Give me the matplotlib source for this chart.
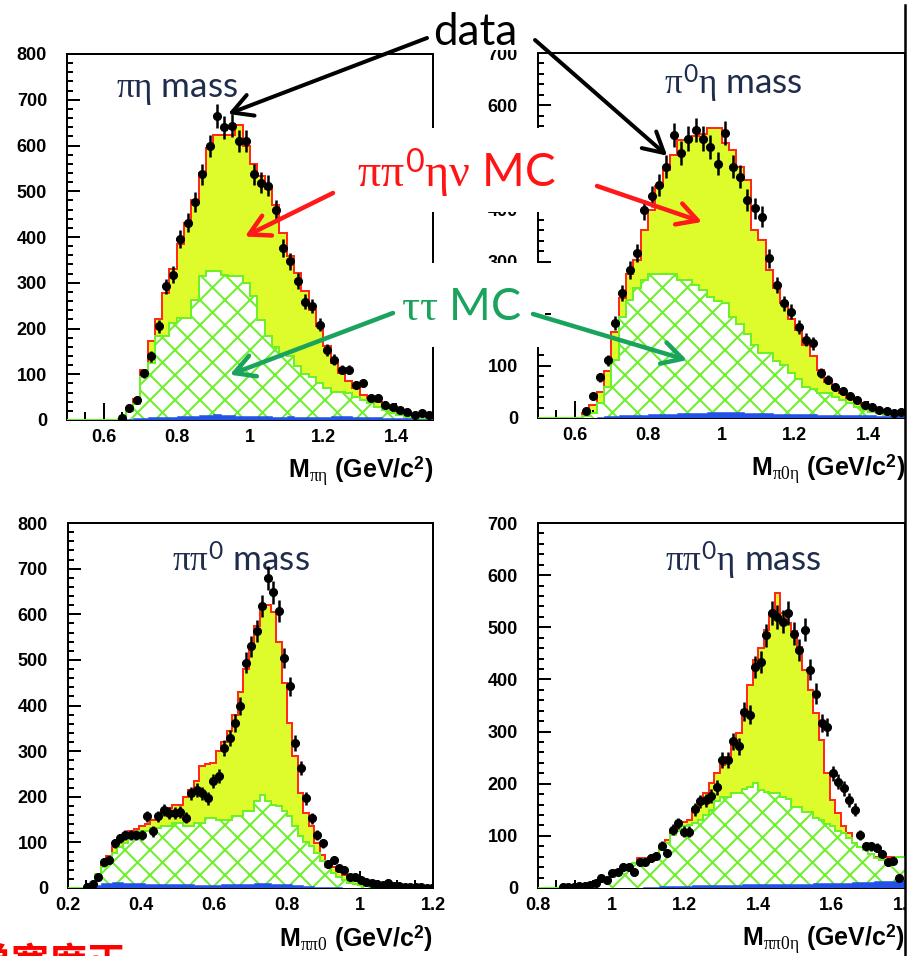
import numpy as np
import matplotlib

matplotlib.use("Agg")
import matplotlib.pyplot as plt
from matplotlib.lines import Line2D
from matplotlib.patches import ConnectionPatch, Rectangle
from matplotlib.ticker import FixedLocator, FuncFormatter, MultipleLocator

DPI = 75
W, H = 915, 956

# --- invariant masses: 0.02 GeV bins for the two-body pairs ---
pieta_data = np.array([0, 0, 0, 0, 0, 0, 0,
                       5, 26, 44, 102, 139, 205, 292, 318, 395, 431, 477, 537, 599, 665, 640, 643, 610, 610,
                       537, 519, 512, 460, 376, 347, 303, 259, 249, 208, 153, 132, 110, 110, 77, 80, 48, 48,
                       33, 29, 22, 18, 11, 15, 11])
pieta_mc = np.array([0, 0, 0, 0, 0, 0, 0,
                     3, 26, 45, 110, 172, 220, 278, 330, 385, 430, 480, 540, 595, 622, 622, 622, 645, 600,
                     560, 534, 505, 470, 409, 358, 322, 282, 240, 205, 161, 125, 102, 85, 70, 55, 48, 40,
                     33, 26, 20, 16, 12, 9, 7])
pieta_tautau = np.array([0, 0, 0, 0, 0, 0, 0,
                         3, 20, 35, 95, 124, 183, 183, 212, 223, 223, 263, 314, 325, 325, 318, 314, 314, 300,
                         270, 219, 183, 160, 143, 139, 117, 100, 95, 80, 69, 62, 62, 58, 51, 44, 37, 29,
                         22, 15, 10, 7, 4, 2, 1])
pieta_other = np.array([0, 0, 0, 0, 0, 0, 0, 0,
                        2, 4, 5, 6, 6, 7, 7, 8, 8, 9, 10, 12, 14, 12, 10, 9, 8, 9, 8, 8, 7, 7, 8, 7, 6, 6,
                        6, 6, 8, 9, 8, 7, 7, 6, 6, 5, 5, 4, 4, 3, 3, 2])

pi0eta_data = np.array([0, 0, 0, 0, 0, 0,
                        13, 42, 78, 111, 183, 239, 284, 316, 399, 425, 447, 482, 543, 508, 536, 552, 536,
                        520, 488, 546, 482, 463, 418, 402, 386, 306, 255, 220, 204, 175, 150, 143, 86, 73,
                        60, 52, 42, 35, 25, 22, 15, 13, 9, 12])
pi0eta_mc = np.array([0, 0, 0, 0, 0, 0,
                      10, 25, 50, 90, 165, 230, 277, 303, 361, 399, 444, 476, 505, 533, 533, 540, 545, 556,
                      556, 527, 514, 482, 456, 361, 341, 284, 250, 220, 190, 169, 140, 118, 92, 70, 58, 47,
                      38, 30, 24, 18, 14, 11, 9, 8])
pi0eta_tautau = np.array([0, 0, 0, 0, 0, 0,
                          3, 10, 28, 60, 111, 194, 226, 250, 265, 277, 277, 277, 277, 265, 265, 255, 245,
                          233, 225, 220, 194, 180, 162, 140, 124, 124, 110, 102, 86, 75, 60, 55, 47, 47, 41,
                          35, 28, 22, 15, 12, 9, 6, 4, 3])
pi0eta_other = np.array([0, 0, 0, 0, 0, 0, 0, 0, 2,
                         3, 4, 5, 5, 6, 6, 7, 7, 8, 8, 9, 9, 10, 10, 11, 12, 12, 12, 11, 10, 10, 9, 9, 8, 8,
                         8, 7, 7, 7, 6, 6, 6, 6, 5, 5, 5, 5, 4, 4, 4, 4])

# --- 0.015 GeV bins for pi pi0 and pi pi0 eta ---
pipi0_data = np.array([0, 0, 0, 2, 8, 25, 58, 62, 98, 109,
                       116, 116, 116, 116, 157, 124, 157, 171, 164, 164,
                       166, 154, 208, 215, 208, 197, 234, 245, 307, 329,
                       362, 399, 494, 530, 563, 618, 680, 648, 607, 504,
                       442, 318, 263, 197, 153, 117, 98, 53, 62, 43,
                       40, 25, 25, 18, 14, 10, 9, 7, 10, 5,
                       4, 3, 3, 2, 2, 1, 1])
pipi0_mc = np.array([0, 0, 0, 1, 6, 30, 55, 70, 90, 105,
                     115, 125, 130, 135, 140, 150, 160, 168, 175, 182,
                     182, 200, 215, 235, 267, 272, 275, 300, 320, 345,
                     380, 430, 480, 530, 575, 615, 620, 605, 540, 450,
                     362, 289, 208, 164, 135, 98, 72, 58, 45, 35,
                     28, 22, 18, 15, 12, 10, 8, 7, 6, 5,
                     4, 3, 3, 2, 2, 2, 1])
pipi0_tautau = np.array([0, 0, 0, 0, 5, 30, 47, 60, 76, 90,
                         98, 113, 113, 124, 124, 131, 131, 135, 135, 142,
                         142, 135, 135, 142, 142, 153, 153, 150, 150, 150,
                         157, 157, 168, 168, 190, 204, 190, 182, 179, 168,
                         157, 135, 113, 100, 91, 76, 60, 47, 32, 25,
                         18, 12, 8, 6, 4, 3, 2, 1, 1, 1,
                         1, 0, 0, 0, 0, 0, 0])
pipi0_other = np.array([0, 0, 0, 0, 2,
                        6, 10, 12, 14, 13, 12, 11, 10, 10, 9, 9, 9, 8, 8, 8, 8, 8, 8, 7, 7, 7, 7, 7, 8, 8,
                        8, 9, 9, 9, 10, 10, 10, 9, 9, 8, 8, 7, 6, 5, 4, 3,
                        3, 2, 2, 2, 1, 1, 1, 1, 1, 1, 0, 0, 0, 0, 0, 0, 0, 0, 0, 0, 0])

pipi0eta_data = np.array([0, 0, 0, 0, 1, 1, 2, 3, 4, 6,
                          9, 19, 15, 28, 31, 41, 41, 31, 49, 49,
                          57, 61, 81, 67, 112, 124, 108, 108, 151, 166,
                          168, 177, 193, 246, 246, 281, 272, 338, 332, 424,
                          434, 485, 527, 520, 511, 527, 488, 457, 495, 419,
                          373, 316, 309, 220, 204, 191, 169, 150, 102, 80,
                          80, 77, 65, 49, 52, 19, 0])
pipi0eta_mc = np.array([0, 0, 0, 0, 1, 1, 2, 3, 5, 7,
                        10, 15, 19, 28, 35, 41, 45, 47, 57, 57,
                        60, 66, 79, 92, 105, 121, 127, 130, 150, 162,
                        182, 201, 220, 236, 252, 284, 297, 341, 389, 437,
                        460, 495, 527, 565, 527, 508, 492, 463, 418, 380,
                        335, 284, 220, 169, 143, 118, 105, 86, 79, 76,
                        66, 60, 60, 60, 60, 60, 60])
pipi0eta_tautau = np.array([0, 0, 0, 0, 0, 1, 2, 3, 4, 6,
                            8, 12, 15, 22, 30, 35, 38, 47, 47, 55,
                            60, 66, 73, 86, 102, 110, 118, 120, 125, 130,
                            140, 150, 166, 175, 175, 182, 182, 190, 194, 201,
                            188, 185, 182, 182, 175, 170, 156, 156, 146, 146,
                            135, 130, 122, 118, 110, 105, 95, 86, 79, 73,
                            65, 58, 54, 50, 54, 60, 60])
pipi0eta_other = np.array([0] * 19 +
                          [1, 2, 2, 3, 3, 3, 4, 4, 4, 5, 5, 5, 5, 6, 6, 6, 6, 6, 7, 7, 7, 7, 7, 8,
                           8, 8, 8, 8, 8, 8, 8, 9, 9, 9, 9, 10, 10, 10, 11, 11, 12, 12, 13, 13, 14, 14, 15, 15])

YELLOW = "#defc2c"
RED = "#ff2a1a"
GREEN = "#6cf028"
BLUE = "#2452e6"
NAVY = "#1f2c4c"
NOTE_GREEN = "#19a35c"


def pt(px):
    return px * 72 / DPI


def fig_frac(x, y):
    return x / W, 1 - y / H


plt.rcParams.update({
    "font.family": ["Lato", "DejaVu Sans"],
    "mathtext.fontset": "custom",
    "mathtext.rm": "Liberation Serif",
    "mathtext.it": "Liberation Serif",
    "mathtext.bf": "Liberation Sans:bold",
    "mathtext.sf": "Lato",
    "hatch.linewidth": 1.9,
})

fig = plt.figure(figsize=(W / DPI, H / DPI), dpi=DPI)


def add_axes_px(x0, y0, x1, y1):
    return fig.add_axes([x0 / W, 1 - y1 / H, (x1 - x0) / W, (y1 - y0) / H])


def draw_panel(ax, edges, mc, tautau, other, data, xlim, ymax, xticks, title, title_xy, xlabel):
    ax.stairs(mc, edges, fill=True, facecolor=YELLOW, edgecolor="none", zorder=1)
    ax.stairs(mc, edges, color=RED, linewidth=pt(2), zorder=2)
    ax.stairs(tautau, edges, fill=True, facecolor="white", edgecolor=GREEN,
              hatch="x", linewidth=pt(2), zorder=3)
    ax.stairs(other, edges, fill=True, facecolor=BLUE, edgecolor=BLUE, linewidth=0.5, zorder=4)

    centers = 0.5 * (edges[:-1] + edges[1:])
    m = data > 0
    ax.errorbar(centers[m], data[m], yerr=np.sqrt(data[m]), fmt="o", ms=pt(8), color="black",
                elinewidth=pt(2.5), capsize=0, zorder=5)

    ax.set_xlim(*xlim)
    ax.set_ylim(0, ymax)
    ax.xaxis.set_major_locator(FixedLocator(xticks))
    ax.xaxis.set_minor_locator(MultipleLocator(0.05))
    ax.yaxis.set_major_locator(MultipleLocator(100))
    ax.yaxis.set_minor_locator(MultipleLocator(20))
    ax.xaxis.set_major_formatter(FuncFormatter(lambda v, _: f"{v:g}"))
    ax.yaxis.set_major_formatter(FuncFormatter(lambda v, _: f"{v:g}"))
    ax.tick_params(which="both", direction="in", top=False, right=False, width=pt(2),
                   labelsize=pt(18), labelfontfamily="Liberation Sans")
    ax.tick_params(axis="x", which="major", length=pt(17), pad=pt(9))
    ax.tick_params(axis="x", which="minor", length=pt(8))
    ax.tick_params(axis="y", which="major", length=pt(13), pad=pt(20))
    ax.tick_params(axis="y", which="minor", length=pt(6))
    plt.setp(ax.get_xticklabels() + ax.get_yticklabels(), fontweight="bold")
    for s in ax.spines.values():
        s.set_linewidth(pt(2))

    ax.text(title_xy[0], title_xy[1], title, transform=ax.transAxes, ha="center",
            va="baseline", fontsize=pt(35), color=NAVY)
    ax.text(1.0, -0.14, xlabel, transform=ax.transAxes, ha="right", va="center",
            fontsize=pt(25), fontweight="bold", family="Liberation Sans")


edges_pair = np.linspace(0.5, 1.5, 51)
edges_pipi0 = 0.2 + 0.015 * np.arange(68)
edges_pipi0eta = 0.8 + 0.015 * np.arange(68)

ax_tl = add_axes_px(67, 54, 433, 420)
ax_tr = add_axes_px(538, 53, 905, 418)
ax_bl = add_axes_px(68, 523, 433, 888)
ax_br = add_axes_px(538, 523, 905, 888)

draw_panel(ax_tl, edges_pair, pieta_mc, pieta_tautau, pieta_other, pieta_data,
           (0.5, 1.5), 800, [0.6, 0.8, 1.0, 1.2, 1.4],
           r"$\pi\eta$ mass", (0.30, 0.883), r"M$_{\pi\eta}$ (GeV/c$^{\mathbf{2}}$)")
draw_panel(ax_tr, edges_pair, pi0eta_mc, pi0eta_tautau, pi0eta_other, pi0eta_data,
           (0.5, 1.5), 700, [0.6, 0.8, 1.0, 1.2, 1.4],
           r"$\pi^{\mathsf{0}}\eta$ mass", (0.531, 0.887), r"M$_{\pi0\eta}$ (GeV/c$^{\mathbf{2}}$)")
draw_panel(ax_bl, edges_pipi0, pipi0_mc, pipi0_tautau, pipi0_other, pipi0_data,
           (0.2, 1.2), 800, [0.2, 0.4, 0.6, 0.8, 1.0, 1.2],
           r"$\pi\pi^{\mathsf{0}}$ mass", (0.474, 0.866), r"M$_{\pi\pi0}$ (GeV/c$^{\mathbf{2}}$)")
draw_panel(ax_br, edges_pipi0eta, pipi0eta_mc, pipi0eta_tautau, pipi0eta_other, pipi0eta_data,
           (0.8, 1.8), 700, [0.8, 1.0, 1.2, 1.4, 1.6, 1.8],
           r"$\pi\pi^{\mathsf{0}}\eta$ mass", (0.559, 0.866), r"M$_{\pi\pi0\eta}$ (GeV/c$^{\mathbf{2}}$)")

# white label boxes laid over the panels
for x0, y0, x1, y1 in [(430, 0, 530, 50), (338, 128, 572, 212), (396, 263, 545, 347), (907, 0, W, H)]:
    fig.add_artist(Rectangle(fig_frac(x0, y1), (x1 - x0) / W, (y1 - y0) / H,
                             transform=fig.transFigure, facecolor="white", edgecolor="none", zorder=5))
fig.add_artist(Line2D([905 / W, 905 / W], [0, 1 - 5 / H], transform=fig.transFigure,
                      color="black", linewidth=pt(2.5), zorder=6))

fig.text(*fig_frac(475, 45), "data", ha="center", va="baseline", fontsize=pt(44), color="black", zorder=7)
fig.text(*fig_frac(456, 187), r"$\pi\pi^{\mathsf{0}}\eta\nu$ MC", ha="center", va="baseline",
         fontsize=pt(46), color="#ff1414", zorder=7)
fig.text(*fig_frac(461, 320), r"$\tau\tau$ MC", ha="center", va="baseline",
         fontsize=pt(45), color=NOTE_GREEN, zorder=7)

arrows = [
    ((427, 38), ax_tl, (0.94, 669), "black", 4),
    ((535, 40), ax_tr, (0.852, 503), "black", 4),
    ((333, 193), ax_tl, (0.986, 401), "#ff1a1a", 4.5),
    ((597, 186), ax_tr, (0.947, 376), "#ff1a1a", 4.5),
    ((393, 313), ax_tl, (0.945, 99), NOTE_GREEN, 4.5),
    ((533, 314), ax_tr, (0.906, 111), NOTE_GREEN, 4.5),
]
for start, ax, tip, color, lw in arrows:
    con = ConnectionPatch(xyA=fig_frac(*start), coordsA="figure fraction", xyB=tip, coordsB="data",
                          axesB=ax, arrowstyle="->,head_length=1.0,head_width=0.55", mutation_scale=pt(20),
                          color=color, linewidth=pt(lw), shrinkA=0, shrinkB=0, zorder=8)
    fig.add_artist(con)

fig.text(-27 / W, 1 - 944 / H, "单宽度正", ha="left", va="top", fontsize=pt(38), color="red",
         family=["Noto Sans CJK SC", "DejaVu Sans"], fontweight="bold", zorder=7)

fig.savefig("out.png", dpi=DPI)
plt.close(fig)
